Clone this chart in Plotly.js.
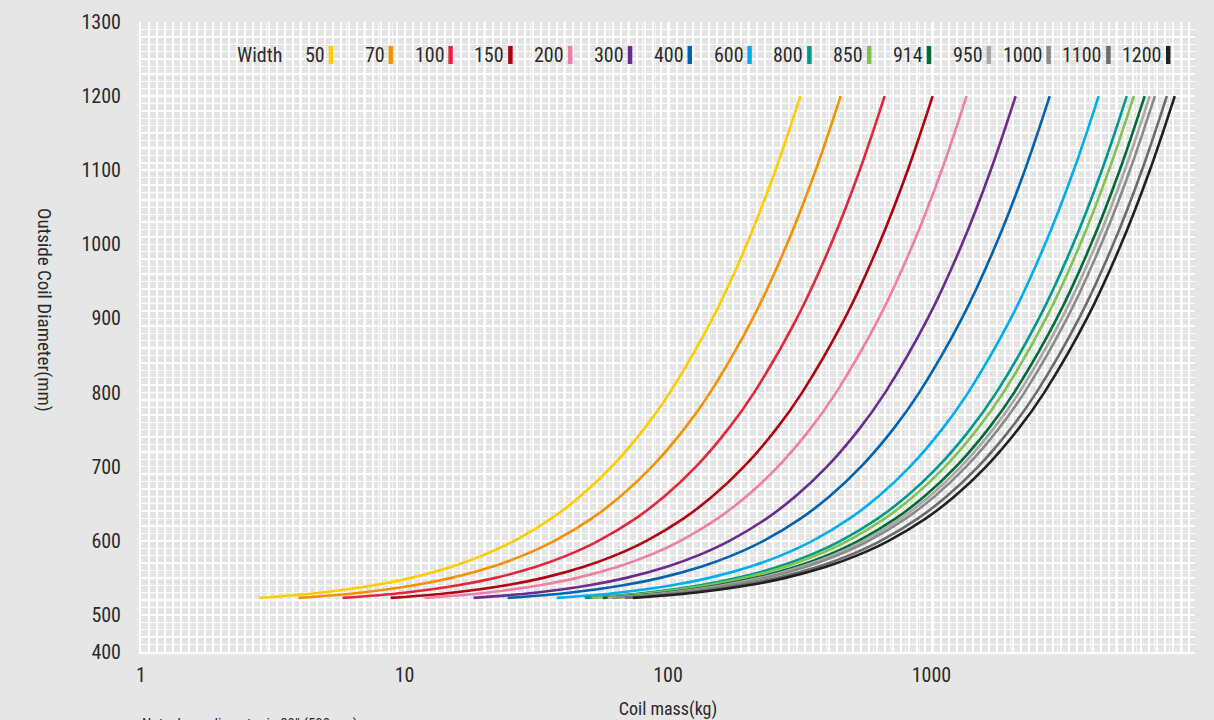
<!DOCTYPE html>
<html><head><meta charset="utf-8">
<script src="https://cdn.plot.ly/plotly-3.0.1.min.js"></script>
<style>html,body{margin:0;padding:0;background:#e6e6e6;overflow:hidden}#chart{width:1214px;height:720px;}</style>
</head><body><div id="chart"></div>
<script>
// Outside coil diameter (mm) sampled along every curve
const diameters = [523, 530, 540, 550, 565, 580, 600, 630, 660, 700, 750, 800, 900, 1000, 1100, 1200];

// Strip widths (legend labels)
const widths = ["50", "70", "100", "150", "200", "300", "400", "600", "800", "850", "914", "950", "1000", "1100", "1200"];
const colors = ["#ffcc00", "#f39200", "#e3263b", "#b0000f", "#ef7fa8", "#6d2a8e", "#0062b0", "#00aeef", "#00998a", "#82c250", "#006b35", "#a9a9a7", "#8a8a89", "#6b6b6b", "#231f20"];

// Coil mass (kg) read at each diameter above, one array per width
const mass_50   = [2.8, 4.77, 7.65, 10.59, 15.10, 19.72, 26.08, 36.03, 46.47, 61.15, 80.71, 101.6, 147.6, 198.9, 255.8, 318];
const mass_70   = [3.96, 6.78, 10.88, 15.05, 21.46, 28.03, 37.07, 51.22, 66.05, 86.91, 114.7, 144.5, 209.8, 282.8, 363.5, 452];
const mass_100  = [5.82, 9.97, 15.98, 22.11, 31.52, 41.18, 54.46, 75.24, 97.03, 127.7, 168.5, 212.2, 308.2, 415.4, 534.0, 664];
const mass_150  = [8.86, 15.16, 24.31, 33.63, 47.94, 62.64, 82.84, 114.4, 147.6, 194.2, 256.4, 322.8, 468.7, 631.9, 812.3, 1010];
const mass_200  = [11.92, 20.40, 32.71, 45.25, 64.51, 84.29, 111.5, 154.0, 198.6, 261.3, 344.9, 434.4, 630.7, 850.2, 1093.0, 1359];
const mass_300  = [18.29, 31.31, 50.21, 69.46, 99.02, 129.4, 171.1, 236.4, 304.8, 401.1, 529.5, 666.8, 968.1, 1305.1, 1677.7, 2086];
const mass_400  = [24.64, 42.18, 67.64, 93.57, 133.4, 174.3, 230.5, 318.4, 410.6, 540.3, 713.2, 898.2, 1304.1, 1758.0, 2260.0, 2810];
const mass_600  = [37.80, 64.69, 103.7, 143.5, 204.6, 267.3, 353.5, 488.4, 629.8, 828.7, 1094.0, 1377.6, 2000.2, 2696.5, 3466.4, 4310];
const mass_800  = [48.32, 82.71, 132.6, 183.5, 261.6, 341.7, 451.9, 624.3, 805.2, 1059.5, 1398.5, 1761.2, 2557.1, 3447.2, 4431.5, 5510];
const mass_850  = [51.39, 87.96, 141.0, 195.1, 278.2, 363.4, 480.6, 664.0, 856.3, 1126.8, 1487.4, 1873.1, 2719.5, 3666.2, 4713.0, 5860];
const mass_914  = [56.48, 96.66, 155.0, 214.5, 305.7, 399.4, 528.2, 729.7, 941.1, 1238.3, 1634.6, 2058.5, 2988.7, 4029.1, 5179.5, 6440];
const mass_950  = [59.02, 101.0, 162.0, 224.1, 319.5, 417.4, 552.0, 762.6, 983.5, 1294.0, 1708.2, 2151.2, 3123.3, 4210.5, 5412.7, 6730];
const mass_1000 = [61.74, 105.7, 169.5, 234.4, 334.2, 436.6, 577.4, 797.7, 1028.8, 1353.7, 1786.9, 2250.3, 3267.1, 4404.4, 5662.1, 7040];
const mass_1100 = [68.58, 117.4, 188.2, 260.4, 371.2, 485.0, 641.4, 886.1, 1142.7, 1503.6, 1984.9, 2499.6, 3629.1, 4892.4, 6289.4, 7820];
const mass_1200 = [73.49, 125.8, 201.7, 279.1, 397.8, 519.7, 687.3, 949.5, 1224.6, 1611.3, 2127.0, 2678.6, 3889.0, 5242.8, 6739.8, 8380];

const masses = [mass_50, mass_70, mass_100, mass_150, mass_200, mass_300, mass_400, mass_600,
                mass_800, mass_850, mass_914, mass_950, mass_1000, mass_1100, mass_1200];

// Axis ticks
const xTickVals = [1, 10, 100, 1000];
const xTickText = ["1", "10", "100", "1000"];
const yTickVals = [450, 500, 600, 700, 800, 900, 1000, 1100, 1200, 1300];
const yTickText = ["400", "500", "600", "700", "800", "900", "1000", "1100", "1200", "1300"];

const FONT = "'Liberation Sans Narrow', 'Arial Narrow', 'Roboto Condensed', 'DejaVu Sans Condensed', sans-serif";
const TXT = "#2a2a2a";

const traces = widths.map((w, i) => ({
  type: "scatter", mode: "lines",
  x: masses[i], y: diameters,
  name: w,
  line: {color: colors[i], width: 2.6, shape: "spline", smoothing: 1},
  showlegend: false, hoverinfo: "x+y+name"
}));
// empty helper trace so the graph-paper grid axis (x2) is drawn
traces.unshift({type: "scatter", mode: "lines", x: [], y: [], xaxis: "x2", yaxis: "y",
  showlegend: false, hoverinfo: "skip"});

// Plot-area geometry (for placing the legend row)
const L = 141, R = 19, T = 22, B = 68, W = 1214, H = 720;
const pw = W - L - R, ph = H - T - B;
const px2x = p => (p - L) / pw;
const py2y = p => (H - B - p) / ph;

const annotations = [];
const shapes = [];
annotations.push({xref: "paper", yref: "paper", x: px2x(259), y: py2y(55), text: "Width",
  showarrow: false, xanchor: "center", yanchor: "middle", font: {family: FONT, size: 20, color: TXT}});
widths.forEach((w, i) => {
  const bx = 331 + i * 59.8;
  shapes.push({type: "line", xref: "paper", yref: "paper", x0: px2x(bx), x1: px2x(bx),
    y0: py2y(46), y1: py2y(64), line: {color: colors[i], width: 4.5}});
  annotations.push({xref: "paper", yref: "paper", x: px2x(bx - 4), y: py2y(55), text: w,
    showarrow: false, xanchor: "right", yanchor: "middle", font: {family: FONT, size: 20, color: TXT}});
});
// rotated y title (reads top to bottom)
annotations.push({xref: "paper", yref: "paper", x: px2x(45), y: py2y(310), text: "Outside Coil Diameter(mm)",
  textangle: 90, showarrow: false, xanchor: "center", yanchor: "middle", font: {family: FONT, size: 19, color: TXT}});
// bottom note, mostly cut by the page edge as in the reference
annotations.push({xref: "paper", yref: "paper", x: px2x(140), y: py2y(713), text: "Note: Inner diameter is 20\" (508mm)",
  showarrow: false, xanchor: "left", yanchor: "top", font: {family: FONT, size: 15, color: TXT}});

const layout = {
  width: W, height: H,
  paper_bgcolor: "#e6e6e6", plot_bgcolor: "#e4e4e4",
  margin: {l: L, r: R, t: T, b: B, pad: 0},
  font: {family: FONT, size: 20, color: TXT},
  showlegend: false,
  xaxis: {
    type: "log", range: [0, 4],
    tickmode: "array", tickvals: xTickVals, ticktext: xTickText,
    ticks: "", showline: true, linecolor: "#ffffff", linewidth: 2,
    showgrid: true, gridcolor: "#ffffff", gridwidth: 1.5,
    minor: {dtick: "D1", showgrid: true, gridcolor: "rgba(255,255,255,0.6)", gridwidth: 1},
    zeroline: false, ticklabelstandoff: 4,
    tickfont: {family: FONT, size: 20, color: TXT},
    title: {text: "Coil mass(kg)", font: {family: FONT, size: 18, color: TXT}, standoff: 20}
  },
  xaxis2: {
    overlaying: "x", anchor: "y", range: [0, 131.75], dtick: 1,
    showticklabels: false, ticks: "", showline: false, zeroline: false,
    showgrid: true, gridcolor: "#ffffff", gridwidth: 1.4
  },
  yaxis: {
    range: [450, 1300],
    tickmode: "array", tickvals: yTickVals, ticktext: yTickText,
    ticks: "", showline: true, linecolor: "#ffffff", linewidth: 2,
    showgrid: true, gridcolor: "#ffffff", gridwidth: 1.5,
    minor: {tickmode: "linear", tick0: 450, dtick: 10, showgrid: true, gridcolor: "#ffffff", gridwidth: 1.4},
    zeroline: false, ticklabelstandoff: 14,
    tickfont: {family: FONT, size: 20, color: TXT}
  },
  annotations: annotations,
  shapes: shapes
};

Plotly.newPlot("chart", traces, layout, {displayModeBar: false, staticPlot: true});
</script>
</body></html>
